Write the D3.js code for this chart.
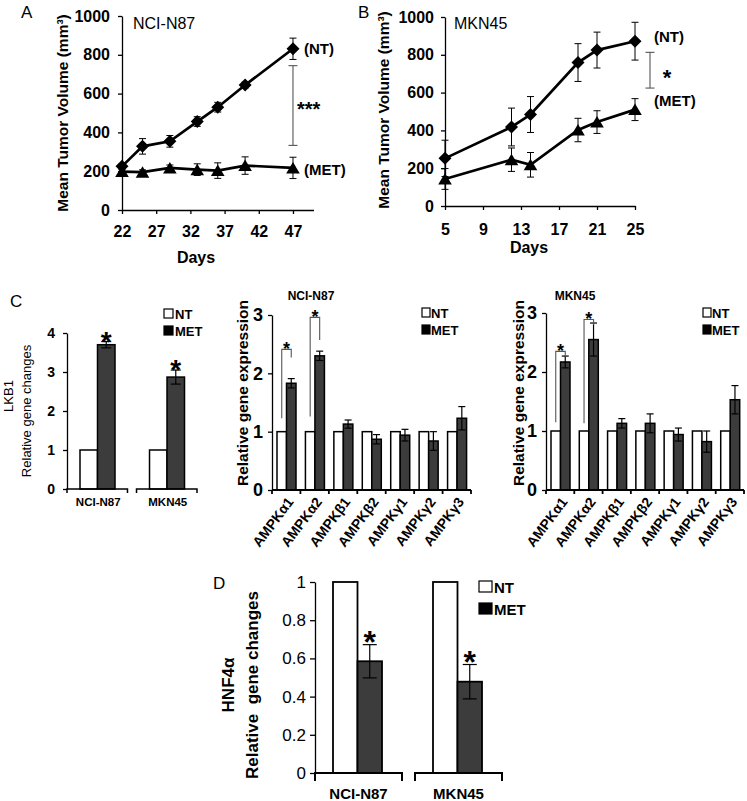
<!DOCTYPE html>
<html><head><meta charset="utf-8">
<script src="https://cdn.jsdelivr.net/npm/d3@7"></script>
<style>body{margin:0;background:#fff} svg{display:block}</style>
</head><body><svg id="c" width="747" height="801"></svg>
<script>
// ---------- DATA ----------
// Panel A (NCI-N87 xenograft)
const daysA = [22, 25, 29, 33, 36, 40, 47];
const ntA = [225, 328, 354, 456, 530, 644, 831];
const ntAErr = [12, 40, 30, 25, 25, 15, 55];
const metA = [198, 195, 217, 208, 203, 229, 217];
const metAErr = [10, 12, 15, 30, 40, 45, 55];
const xTicksA = [22, 27, 32, 37, 42, 47];
// Panel B (MKN45 xenograft)
const daysB = [5, 12, 14, 19, 21, 25];
const ntB = [252, 418, 484, 759, 825, 872];
const ntBErr = [96, 100, 95, 100, 95, 100];
const metB = [143, 245, 218, 402, 444, 510];
const metBErr = [55, 62, 65, 62, 60, 58];
const xTicksB = [5, 9, 13, 17, 21, 25];
const yTicksTumor = [0, 200, 400, 600, 800, 1000];
const sigA = [333, 744]; // bracket span (mm3)
const sigB = [624, 813];
// Panel C – LKB1
const lkbGroups = ["NCI-N87", "MKN45"];
const lkbNT = [1, 1];
const lkbMET = [3.7, 2.87];
const lkbErr = [0.08, 0.18];
// Panel C – AMPK subunits
const ampkCats = ["AMPKα1", "AMPKα2", "AMPKβ1", "AMPKβ2", "AMPKγ1", "AMPKγ2", "AMPKγ3"];
const ampkNT = [1, 1, 1, 1, 1, 1, 1];
const nciMET = [1.83, 2.30, 1.13, 0.87, 0.94, 0.84, 1.23];
const nciErr = [0.08, 0.08, 0.07, 0.08, 0.10, 0.16, 0.20];
const mknMET = [2.17, 2.55, 1.13, 1.13, 0.94, 0.82, 1.53];
const mknErr = [0.10, 0.28, 0.08, 0.16, 0.11, 0.18, 0.24];
const sigCats = ["AMPKα1", "AMPKα2"];
const nciSigBase = [1.23, 1.26], nciSigTop = [2.41, 2.96], nciSigEnd = [2.27, 2.57];
const mknSigBase = [1.15, 1.13], mknSigTop = [2.35, 2.89], mknSigEnd = [2.26, 2.80];
// Panel D – HNF4α
const hnfGroups = ["NCI-N87", "MKN45"];
const hnfNT = [1, 1];
const hnfMET = [0.585, 0.478];
const hnfErr = [0.087, 0.09];

// ---------- DRAWING ----------
const svg = d3.select("#c");
const F = "'Liberation Sans', Arial, sans-serif";
svg.append("rect").attr("width", 747).attr("height", 801).attr("fill", "#fff");

function label(x, y, s, size, weight, anchor, rot) {
  const t = svg.append("text").attr("font-family", F).attr("font-size", size)
    .attr("font-weight", weight || "normal").attr("text-anchor", anchor || "start")
    .attr("dominant-baseline", "central").attr("fill", "#000");
  if (rot) t.attr("transform", `translate(${x},${y}) rotate(${rot})`); else t.attr("x", x).attr("y", y);
  t.text(s);
  return t;
}
function star(x, y, s, size) { // y = visual centre of asterisk
  svg.append("text").attr("font-family", F).attr("font-size", size).attr("font-weight", "bold")
    .attr("text-anchor", "middle").attr("x", x).attr("y", y + 0.57 * size).attr("fill", "#000").text(s);
}
function styleAxis(a, size, weight) {
  a.selectAll("path,line").attr("stroke", "#000").attr("stroke-width", 1.3);
  a.selectAll("text").attr("font-family", F).attr("font-size", size).attr("font-weight", weight).attr("fill", "#000");
}

const diamond = "M0,-6.5L6.5,0L0,6.5L-6.5,0Z";
const triangle = "M0,-6L6.8,5.5L-6.8,5.5Z";

function linePanel(o) {
  const g = svg.append("g");
  const x = d3.scaleLinear().domain(o.xDomain).range(o.xRange);
  const y = d3.scaleLinear().domain([0, 1000]).range(o.yRange);
  const ya = g.append("g").attr("transform", `translate(${o.xRange[0]},0)`)
    .call(d3.axisLeft(y).tickValues(yTicksTumor).tickFormat(d3.format("d")).tickSize(4).tickSizeOuter(0).tickPadding(o.yPad));
  const xa = g.append("g").attr("transform", `translate(0,${o.yRange[0]})`)
    .call(d3.axisBottom(x).tickValues(o.xTicks).tickSize(4).tickSizeOuter(0).tickPadding(o.xPad));
  styleAxis(ya, 16, "bold"); styleAxis(xa, 16, "bold");
  o.series.forEach(s => {
    const rows = s.vals.map((v, i) => ({ d: o.days[i], v, e: s.err[i] }));
    const eb = g.append("g").attr("stroke", "#000").attr("stroke-width", 1);
    eb.selectAll("line.v").data(rows).join("line").attr("x1", d => x(d.d)).attr("x2", d => x(d.d))
      .attr("y1", d => y(d.v - d.e)).attr("y2", d => y(d.v + d.e));
    eb.selectAll("line.t").data(rows).join("line").attr("x1", d => x(d.d) - 3.5).attr("x2", d => x(d.d) + 3.5)
      .attr("y1", d => y(d.v + d.e)).attr("y2", d => y(d.v + d.e));
    eb.selectAll("line.b").data(rows).join("line").attr("x1", d => x(d.d) - 3.5).attr("x2", d => x(d.d) + 3.5)
      .attr("y1", d => y(d.v - d.e)).attr("y2", d => y(d.v - d.e));
    g.append("path").datum(rows).attr("fill", "none").attr("stroke", "#000").attr("stroke-width", 2.7)
      .attr("d", d3.line().x(d => x(d.d)).y(d => y(d.v)));
    g.selectAll(null).data(rows).join("path").attr("d", s.marker).attr("fill", "#000")
      .attr("transform", d => `translate(${x(d.d)},${y(d.v)})`);
  });
  // significance bracket
  const bx = o.sigX(x), b = g.append("g").attr("stroke", "#555").attr("stroke-width", 1.1);
  b.append("line").attr("x1", bx).attr("x2", bx).attr("y1", y(o.sig[0])).attr("y2", y(o.sig[1]));
  o.sig.forEach(v => b.append("line").attr("x1", bx - 4.5).attr("x2", bx + 4.5).attr("y1", y(v)).attr("y2", y(v)));
  return { x, y };
}

// Panel A
linePanel({ xDomain: [22, 50], xRange: [122, 313.5], yRange: [210, 16], yPad: 8, xPad: 12,
  days: daysA, xTicks: xTicksA, sig: sigA, sigX: x => x(47),
  series: [{ vals: ntA, err: ntAErr, marker: diamond }, { vals: metA, err: metAErr, marker: triangle }] });
label(21, 12, "A", 17, "normal");
label(133, 23, "NCI-N87", 16, "normal");
label(304, 48, "(NT)", 15, "bold");
label(304, 169, "(MET)", 15, "bold");
svg.append("text").attr("font-family", F).attr("font-size", 20).attr("font-weight", "bold")
  .attr("x", 297).attr("y", 105 + 0.57 * 20).text("***");
label(196, 257, "Days", 16, "bold", "middle");
label(62, 113, "Mean Tumor Volume (mm³)", 15.5, "bold", "middle", -90);

// Panel B
linePanel({ xDomain: [5, 25], xRange: [445, 635], yRange: [206, 17], yPad: 7, xPad: 14,
  days: daysB, xTicks: xTicksB, sig: sigB, sigX: x => x(25) + 15,
  series: [{ vals: ntB, err: ntBErr, marker: diamond }, { vals: metB, err: metBErr, marker: triangle }] });
label(358, 12, "B", 17, "normal");
label(454, 23, "MKN45", 16, "normal");
label(654, 36, "(NT)", 15, "bold");
label(654, 100, "(MET)", 15, "bold");
star(667, 72, "*", 22);
label(529, 247, "Days", 16, "bold", "middle");
label(383, 110, "Mean Tumor Volume (mm³)", 15.5, "bold", "middle", -90);

// generic grouped bar chart
function barPanel(o) {
  const g = svg.append("g");
  const y = d3.scaleLinear().domain(o.yDomain).range(o.yRange);
  const x = d3.scaleBand().domain(o.cats).range(o.xRange).paddingInner(o.padInner || 0);
  const xi = d3.scaleBand().domain(["NT", "MET"]).range(o.inner);
  const ya = g.append("g").attr("transform", `translate(${o.xRange[0]},0)`)
    .call(d3.axisLeft(y).tickValues(o.yTicks).tickFormat(o.fmt).tickSize(o.yTick).tickSizeOuter(0).tickPadding(o.yPad));
  styleAxis(ya, o.yFont, o.yWeight);
  const rows = o.cats.map((c, i) => ({ c, nt: o.nt[i], met: o.met[i], e: o.err[i] }));
  g.selectAll("rect.nt").data(rows).join("rect").attr("class", "nt")
    .attr("x", d => x(d.c) + xi("NT")).attr("y", d => y(d.nt)).attr("width", xi.bandwidth())
    .attr("height", d => y(0) - y(d.nt)).attr("fill", "#fff").attr("stroke", "#000").attr("stroke-width", o.sw);
  g.selectAll("rect.met").data(rows).join("rect").attr("class", "met")
    .attr("x", d => x(d.c) + xi("MET")).attr("y", d => y(d.met)).attr("width", xi.bandwidth())
    .attr("height", d => y(0) - y(d.met)).attr("fill", "#3c3c3c").attr("stroke", "#000").attr("stroke-width", o.sw);
  const mx = d => x(d.c) + xi("MET") + xi.bandwidth() / 2;
  const eb = g.append("g").attr("stroke", "#000").attr("stroke-width", 1.2);
  eb.selectAll("line.v").data(rows).join("line").attr("x1", mx).attr("x2", mx)
    .attr("y1", d => y(d.met - d.e)).attr("y2", d => y(d.met + d.e));
  eb.selectAll("line.t").data(rows).join("line").attr("x1", d => mx(d) - o.cap).attr("x2", d => mx(d) + o.cap)
    .attr("y1", d => y(d.met + d.e)).attr("y2", d => y(d.met + d.e));
  eb.selectAll("line.b").data(rows).join("line").attr("x1", d => mx(d) - o.cap).attr("x2", d => mx(d) + o.cap)
    .attr("y1", d => y(d.met - d.e)).attr("y2", d => y(d.met - d.e));
  // x axis
  const y0 = y(0), ax = g.append("g").attr("fill", "none").attr("stroke", "#000").attr("stroke-width", o.axW || 1.5);
  if (o.segmented) {
    ax.selectAll("path").data(o.cats).join("path").attr("d", (c, i) => {
      const x0 = i === 0 ? o.xRange[0] : x(c), x1 = x(c) + x.bandwidth();
      return `M${x0},${y0 + o.xTick}V${y0}H${x1}V${y0 + o.xTick}`;
    });
  } else {
    ax.append("line").attr("x1", o.xRange[0]).attr("x2", o.xRange[1]).attr("y1", y0).attr("y2", y0);
    ax.selectAll("line.tk").data(o.cats.concat(["__end"])).join("line")
      .attr("x1", c => c === "__end" ? o.xRange[1] : x(c)).attr("x2", c => c === "__end" ? o.xRange[1] : x(c))
      .attr("y1", y0).attr("y2", y0 + o.xTick);
  }
  return { x, xi, y, rows, g };
}

// C – LKB1
const c1 = barPanel({ cats: lkbGroups, nt: lkbNT, met: lkbMET, err: lkbErr, yDomain: [0, 4], yRange: [489, 333],
  xRange: [67, 197], padInner: 0.13, inner: [13, 48], yTicks: [0, 1, 2, 3, 4], fmt: d3.format("d"),
  yTick: 4, yPad: 8, yFont: 14, yWeight: "bold", sw: 1.5, cap: 5, segmented: true, xTick: 4 });
c1.rows.forEach(d => star(c1.x(d.c) + c1.xi("MET") + c1.xi.bandwidth() / 2, c1.y(d.met + d.e) - 7, "*", 28));
lkbGroups.forEach(gname => label(c1.x(gname) + c1.x.bandwidth() / 2 + 1, 502, gname, 11.5, "bold", "middle"));
label(10, 301, "C", 17, "normal");
label(8, 396, "LKB1", 13, "normal", "middle", -90);
label(26, 411, "Relative gene changes", 13, "normal", "middle", -90);

function legend(x, y1, y2, w, h, tx, size) {
  svg.append("rect").attr("x", x).attr("y", y1).attr("width", w).attr("height", h).attr("fill", "#fff").attr("stroke", "#000").attr("stroke-width", 1.2);
  svg.append("rect").attr("x", x).attr("y", y2).attr("width", w).attr("height", h).attr("fill", "#000").attr("stroke", "#000").attr("stroke-width", 1.2);
  label(tx, y1 + h / 2 + 0.5, "NT", size, "bold");
  label(tx, y2 + h / 2 + 0.5, "MET", size, "bold");
}
legend(164, 309, 326, 9, 9, 175, 13);

// C – AMPK panels
function ampkPanel(o) {
  const p = barPanel({ cats: ampkCats, nt: ampkNT, met: o.met, err: o.err, yDomain: [0, 3], yRange: o.yRange,
    xRange: o.xRange, inner: [5, 24], yTicks: [0, 1, 2, 3], fmt: d3.format("d"),
    yTick: 4, yPad: 5, yFont: 18, yWeight: "bold", sw: 1.5, cap: 3.5, segmented: false, xTick: 4, axW: 1.8 });
  ampkCats.forEach(c => {
    const cx = p.x(c) + p.x.bandwidth() / 2;
    svg.append("text").attr("font-family", F).attr("font-size", 14).attr("font-weight", "bold")
      .attr("text-anchor", "end").attr("dominant-baseline", "central")
      .attr("transform", `translate(${cx + 4},${p.y(0) + 9}) rotate(-53)`).text(c);
  });
  const bk = svg.append("g").attr("fill", "none").attr("stroke", "#555").attr("stroke-width", 1.1);
  sigCats.forEach((c, i) => {
    const lx = p.x(c) + p.xi("NT") + p.xi.bandwidth() / 2, rx = p.x(c) + p.xi("MET") + p.xi.bandwidth() / 2;
    bk.append("path").attr("d", `M${lx},${p.y(o.base[i])}V${p.y(o.top[i])}H${rx}V${p.y(o.end[i])}`);
    star((lx + rx) / 2, p.y(o.top[i]) - 5, "*", 18);
  });
  label(o.titleX, 296, o.title, 12, "bold", "middle");
  label(o.ylX, 393, "Relative gene expression", 15.5, "bold", "middle", -90);
  legend(o.legX, 308, 325, 8, 9, o.legX + 9, 13);
  return p;
}
ampkPanel({ met: nciMET, err: nciErr, yRange: [490, 315], xRange: [272, 471], base: nciSigBase, top: nciSigTop, end: nciSigEnd,
  title: "NCI-N87", titleX: 311, ylX: 242, legX: 422 });
ampkPanel({ met: mknMET, err: mknErr, yRange: [490, 313], xRange: [546, 744], base: mknSigBase, top: mknSigTop, end: mknSigEnd,
  title: "MKN45", titleX: 575, ylX: 518, legX: 703 });

// D – HNF4α
const dp = barPanel({ cats: hnfGroups, nt: hnfNT, met: hnfMET, err: hnfErr, yDomain: [0, 1], yRange: [773, 582],
  xRange: [315, 502], padInner: 0.13, inner: [18, 67], yTicks: [0, 0.2, 0.4, 0.6, 0.8, 1],
  fmt: d => (d === 0 || d === 1) ? String(d) : d.toFixed(1),
  yTick: 5, yPad: 4, yFont: 17, yWeight: "normal", sw: 1.8, cap: 7, segmented: true, xTick: 8, axW: 2 });
dp.rows.forEach(d => star(dp.x(d.c) + dp.xi("MET") + dp.xi.bandwidth() / 2, dp.y(d.met + d.e) - 10, "*", 32));
hnfGroups.forEach(gname => label(dp.x(gname) + dp.x.bandwidth() / 2, 793, gname, 15, "bold", "middle"));
label(213, 583, "D", 17, "normal");
label(228, 685, "HNF4α", 17, "bold", "middle", -90);
label(252, 685, "Relative  gene changes", 17, "bold", "middle", -90).attr("style", "white-space:pre");
legend(479, 581, 603, 13, 11, 494, 15);
</script></body></html>
